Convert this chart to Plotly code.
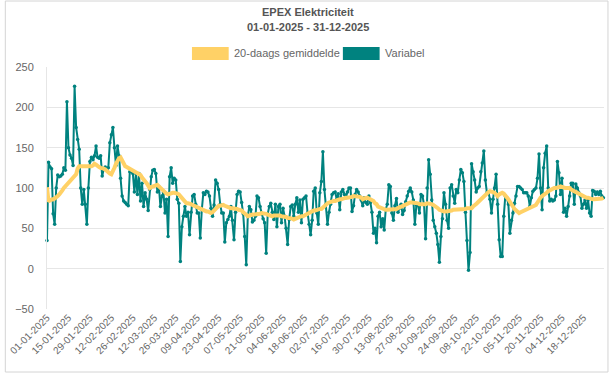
import pandas as pd
import plotly.graph_objects as go

# ---------------- data ----------------
dates = pd.date_range("2025-01-01", "2025-12-31", freq="D")
missing_day = pd.Timestamp("2025-11-12")
categories = [d.strftime("%d-%m-%Y") for d in dates if d != missing_day]

variabel_jan = [35,132,126,124,68,55,100,116,114,115,117,125,122,207,150,141,137,128,226,175,160,148,100,80,98,80,55,100,133,138,135]
variabel_feb = [140,152,138,137,140,115,123,126,122,125,156,166,175,150,128,152,140,112,90,84,82,80,78,120,121,118,95,118]
variabel_mar = [92,118,84,106,77,94,86,72,98,114,122,123,118,95,102,77,90,94,69,86,40,114,125,106,112,110,86,81,9,52,65]
variabel_apr = [77,65,70,42,70,90,92,80,69,69,38,73,94,92,96,95,90,75,65,79,110,106,98,80,69,69,33,57,61,65]
variabel_may = [77,60,36,70,92,96,95,82,68,40,5,65,77,73,58,60,65,90,88,77,68,62,57,19,68,77,81,70,61,80,52]
variabel_jun = [77,80,57,75,65,50,30,61,77,79,65,80,88,70,85,57,86,88,90,69,55,42,60,96,100,69,55,94,108,145]
variabel_jul = [98,80,55,70,80,92,94,95,86,93,73,95,98,92,88,95,100,100,71,78,92,98,95,90,85,78,88,82,80,90,82]
variabel_aug = [70,44,50,32,65,70,52,62,48,73,80,104,102,69,60,78,87,70,75,80,67,72,83,90,96,100,95,85,55,79,80]
variabel_sep = [69,92,90,79,37,100,135,117,85,60,52,44,30,8,40,62,94,80,60,50,100,104,90,81,98,94,110,123,119,108]
variabel_oct = [70,35,-2,20,130,120,110,95,100,102,120,131,146,110,94,95,86,69,86,100,117,80,36,15,15,65,90,88,80,44,60]
variabel_nov = [69,81,90,102,102,100,98,94,94,94,90,77,88,96,98,100,112,142,100,73,125,143,152,100,84,86,84,85,90]
variabel_dec = [133,119,92,112,70,75,65,77,90,106,106,80,105,100,94,90,75,80,85,75,85,69,65,97,96,92,95,92,96,90,88]

avg_jan = [101,83,85,85,86,87,88,90,92,94,97,100,102,104,106,108,110,112,114,117,124,127,127,127,126,126,126,127,127,127,128]
avg_feb = [130,129,127,126,125,125,124,123,121,119,118,117,120,125,130,134,137,138,134,130,127,126,125,124,123,122,121,120]
avg_mar = [119,118,116,113,111,109,106,103,100,101,102,103,104,104,102,100,98,96,94,93,92,93,94,94,94,94,93,92,90,88,86]
avg_apr = [83,81,81,81,80,79,78,77,76,75,74,73,72,72,71,71,70,69,70,72,75,77,78,78,79,79,78,77,76,75]
avg_may = [75,75,75,74,74,73,73,72,70,69,67,65,66,66,67,67,67,67,68,68,69,69,68,68,67,66,65,65,66,66,67]
avg_jun = [66,66,65,65,64,64,63,63,62,62,61,62,63,64,64,65,65,66,67,69,70,71,71,72,72,73,73,74,74,76]
avg_jul = [77,79,81,82,83,83,84,84,85,85,86,86,87,87,88,88,88,89,89,90,90,90,90,89,88,86,87,88,88,87,86]
avg_aug = [86,84,81,80,77,76,75,74,74,73,73,73,73,73,73,74,74,75,76,76,77,78,80,81,82,82,82,82,82,81,81]
avg_sep = [80,80,79,79,80,81,81,81,80,79,78,77,75,73,72,71,71,71,71,71,72,72,73,73,73,73,73,73,73,74]
avg_oct = [74,75,75,75,75,77,78,80,82,84,86,88,90,92,94,95,96,96,95,94,92,90,92,93,94,93,91,89,86,83,79]
avg_nov = [77,74,72,70,69,70,71,72,73,73,74,75,76,77,78,79,82,86,88,90,91,92,94,96,97,99,100,100,100]
avg_dec = [100,101,102,101,100,100,100,100,100,98,97,96,94,93,92,91,90,89,89,88,88,87,86,86,86,86,86,86,87,87,88]

variabel = (variabel_jan + variabel_feb + variabel_mar + variabel_apr + variabel_may + variabel_jun +
            variabel_jul + variabel_aug + variabel_sep + variabel_oct + variabel_nov + variabel_dec)
gemiddelde = (avg_jan + avg_feb + avg_mar + avg_apr + avg_may + avg_jun +
              avg_jul + avg_aug + avg_sep + avg_oct + avg_nov + avg_dec)

tick_labels = categories[::14]
y_ticks = [-50, 0, 50, 100, 150, 200, 250]

# ---------------- style ----------------
TEAL = "#00827f"
YELLOW = "#ffd166"
FONT = "Liberation Sans, Arial, sans-serif"
W, H = 612, 376
L, R, T, B = 43, 8, 67, 67
PW, PH = W - L - R, H - T - B


def px(x):
    return (x - L) / PW


def py(y):
    return (H - B - y) / PH


fig = go.Figure()
fig.add_trace(go.Scatter(
    x=categories, y=variabel, name="Variabel", mode="lines+markers",
    line=dict(color=TEAL, width=2), marker=dict(color=TEAL, size=3.5),
    cliponaxis=False, showlegend=False))
fig.add_trace(go.Scatter(
    x=categories, y=gemiddelde, name="20-daags gemiddelde", mode="lines",
    line=dict(color=YELLOW, width=4), cliponaxis=False, showlegend=False))

shapes = [
    dict(type="rect", xref="paper", yref="paper", x0=px(1), x1=px(608), y0=py(372), y1=py(1),
         line=dict(color="#d4d4d4", width=1), layer="below"),
    dict(type="rect", xref="paper", yref="paper", x0=px(189), x1=px(226), y0=py(60), y1=py(47),
         line=dict(width=0), fillcolor=YELLOW),
    dict(type="rect", xref="paper", yref="paper", x0=px(341), x1=px(378), y0=py(60), y1=py(47),
         line=dict(width=0), fillcolor=TEAL),
]

annotations = [
    dict(text="<b>EPEX Elektriciteit</b>", x=px(306), y=py(12), xref="paper", yref="paper",
         showarrow=False, xanchor="center", yanchor="middle",
         font=dict(family=FONT, size=11, color="#555555")),
    dict(text="<b>01-01-2025 - 31-12-2025</b>", x=px(306), y=py(27), xref="paper", yref="paper",
         showarrow=False, xanchor="center", yanchor="middle",
         font=dict(family=FONT, size=11, color="#555555")),
    dict(text="20-daags gemiddelde", x=px(229), y=py(53.5), xref="paper", yref="paper",
         showarrow=False, xanchor="left", yanchor="middle",
         font=dict(family=FONT, size=11, color="#666666")),
    dict(text="Variabel", x=px(381), y=py(53.5), xref="paper", yref="paper",
         showarrow=False, xanchor="left", yanchor="middle",
         font=dict(family=FONT, size=11, color="#666666")),
]

fig.update_layout(
    width=W, height=H, margin=dict(l=L, r=R, t=T, b=B),
    paper_bgcolor="white", plot_bgcolor="white",
    font=dict(family=FONT, color="#666666"),
    showlegend=False, shapes=shapes, annotations=annotations,
    xaxis=dict(type="category", categoryorder="array", categoryarray=categories,
               range=[0, len(categories) - 0.6], tickmode="array", tickvals=tick_labels,
               ticktext=tick_labels, tickangle=-45, tickfont=dict(size=10, color="#666666"),
               showgrid=False, zeroline=False, showline=False, ticks=""),
    yaxis=dict(range=[-50, 250], tickvals=y_ticks, showgrid=True, gridcolor="#e6e6e6",
               zeroline=False, showline=True, linecolor="#e6e6e6", linewidth=1,
               tickfont=dict(size=11, color="#666666"), ticklabelstandoff=10),
)

fig.write_html("out.html",
               config={"displayModeBar": False},
               post_script="document.body.style.margin='0';document.body.style.padding='0';")
